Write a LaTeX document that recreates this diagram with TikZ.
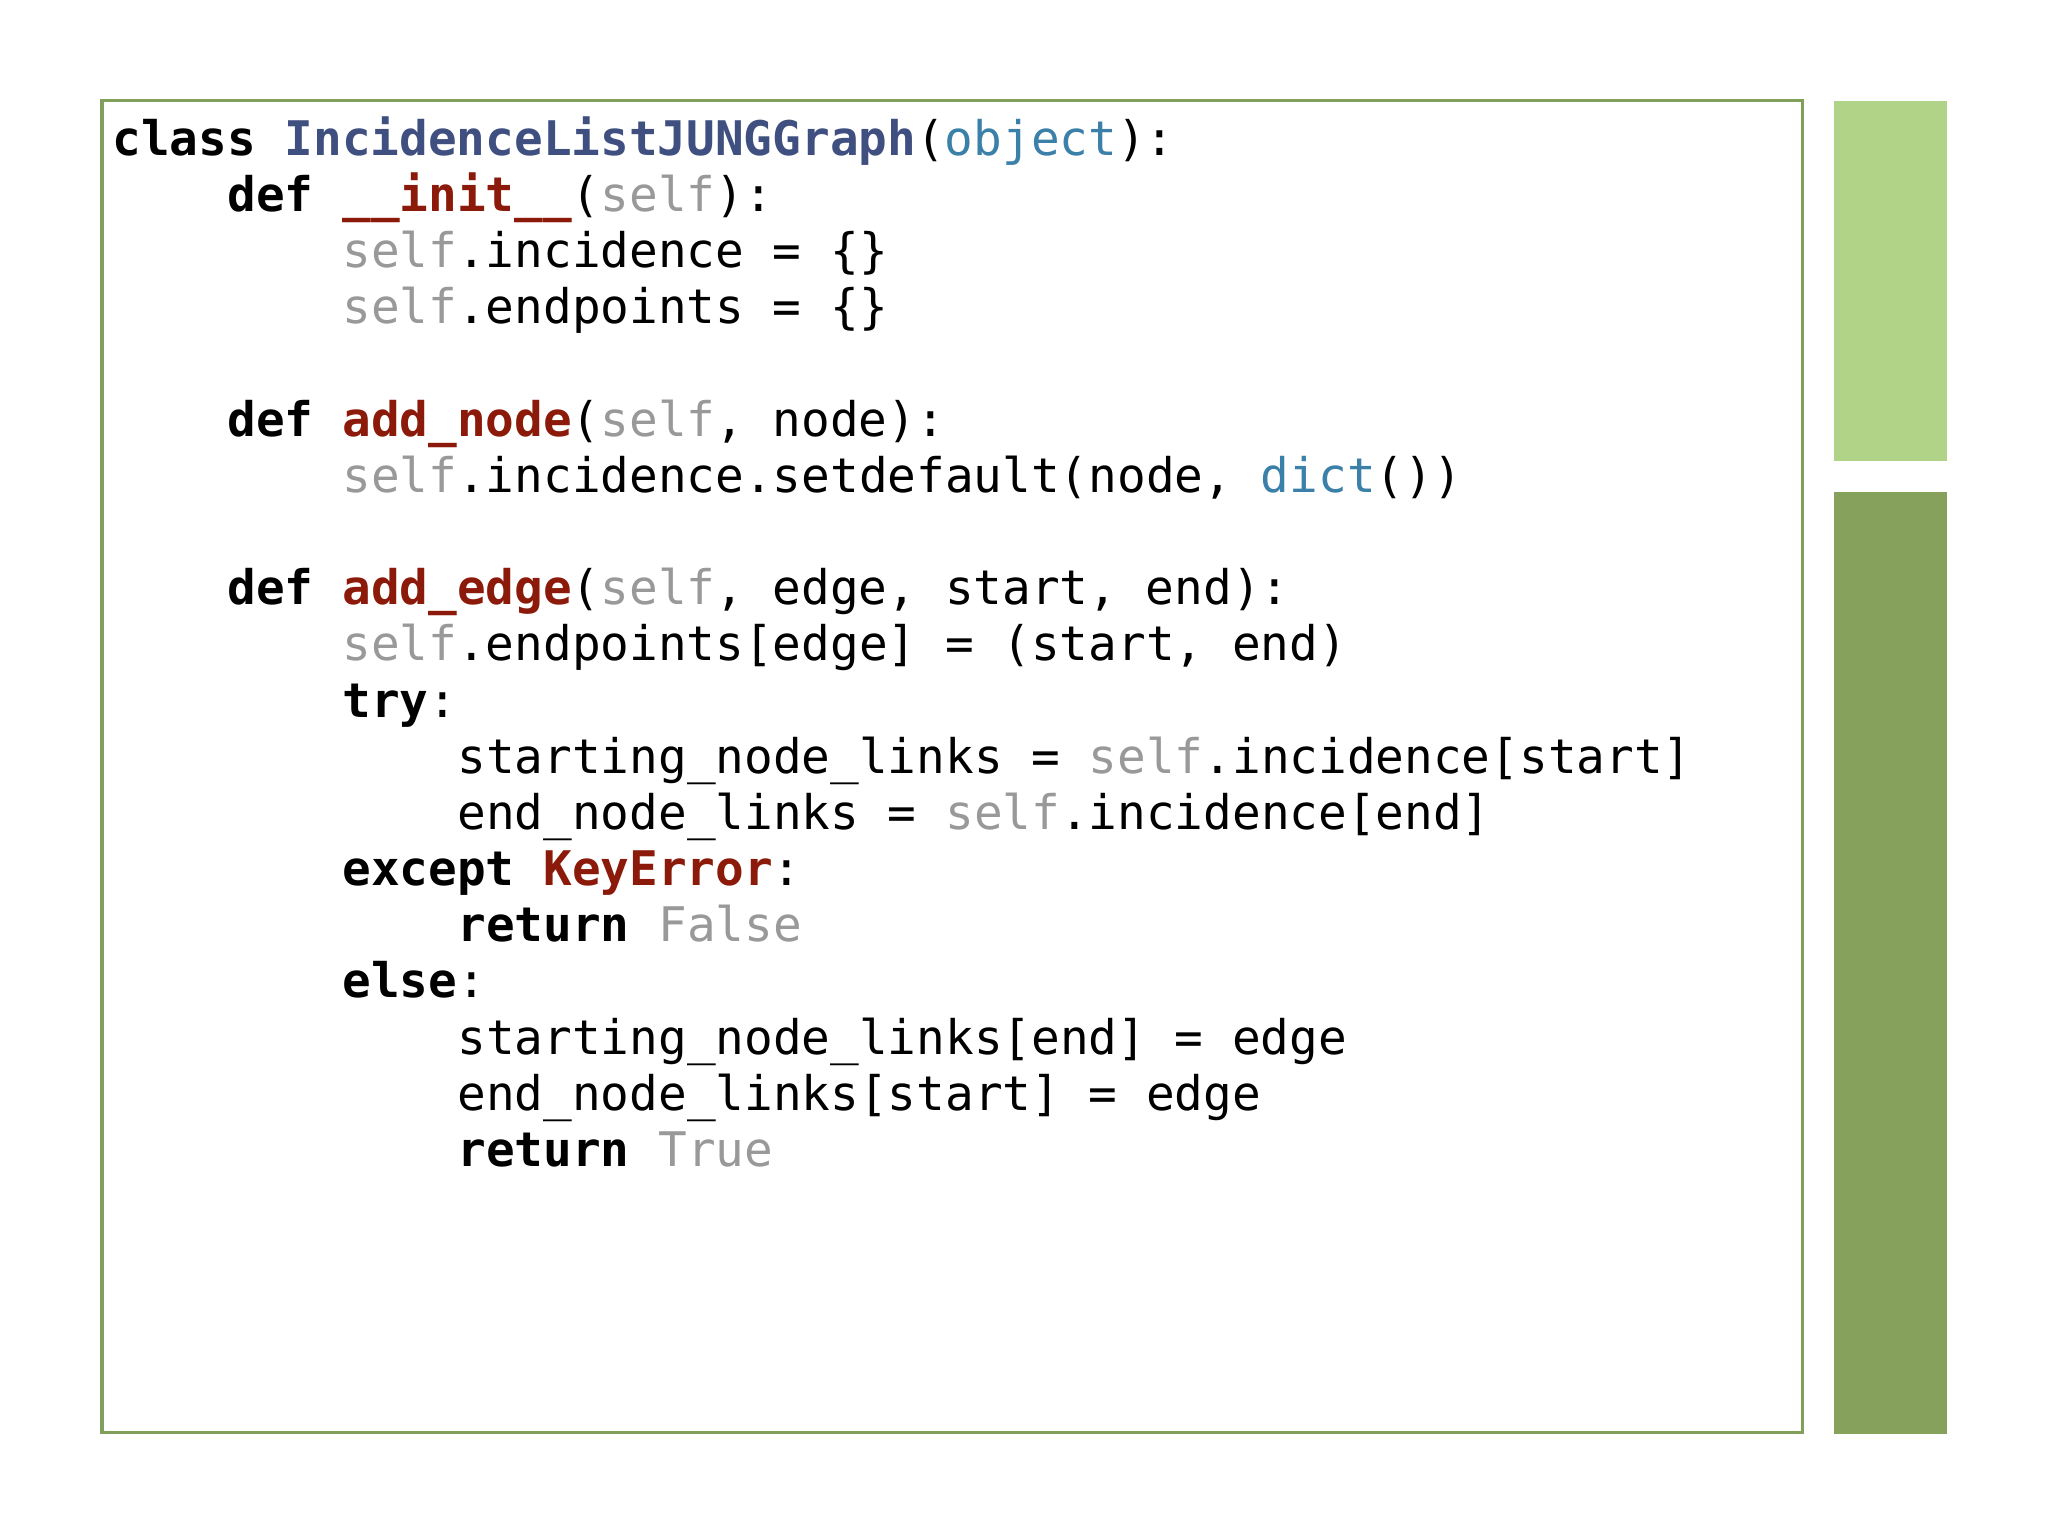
\documentclass[tikz,border=0pt]{standalone}
\usepackage{fontspec}
\setmonofont{DejaVu Sans Mono}
\definecolor{frameg}{HTML}{7F9F5A}
\definecolor{lightg}{HTML}{B1D388}
\definecolor{darkg}{HTML}{85A15C}
\definecolor{clsblue}{HTML}{3F4F80}
\definecolor{bltn}{HTML}{3A80A8}
\definecolor{fnred}{HTML}{8B1A0A}
\definecolor{slfgray}{HTML}{999999}
\newcommand{\kwd}[1]{\textbf{#1}}
\newcommand{\slf}{\textcolor{slfgray}{self}}
\newcommand{\fnc}[1]{\textcolor{fnred}{\textbf{#1}}}
\newcommand{\blu}[1]{\textcolor{bltn}{#1}}
\newcommand{\clsn}[1]{\textcolor{clsblue}{\textbf{#1}}}
\newcommand{\gry}[1]{\textcolor{slfgray}{#1}}
\begin{document}
\begin{tikzpicture}[x=1pt,y=-1pt,
  codeline/.style={anchor=base west,inner sep=0pt,font=\ttfamily\fontsize{36.5}{43}\selectfont}]
\useasboundingbox (0,0) rectangle (1568,1176);
\fill[white] (0,0) rectangle (1568,1176);
\draw[frameg,line width=2.5pt] (78,77) rectangle (1380,1097);
\fill[lightg] (1404,77) rectangle (1491,353);
\fill[darkg] (1404,377) rectangle (1491,1098);
\def\bl#1{\fpeval{#1+12}}
\node[codeline] (l1) at (86,119) {\kwd{class} \clsn{IncidenceListJUNGGraph}(\blu{object}):};
\node[codeline] (l2) at (174,162) {\kwd{def} \fnc{\_\_init\_\_}(\slf):};
\node[codeline] (l3) at (262,205) {\slf.incidence = \{\}};
\node[codeline] (l4) at (262,248) {\slf.endpoints = \{\}};
\node[codeline] (l5) at (174,334) {\kwd{def} \fnc{add\_node}(\slf, node):};
\node[codeline] (l6) at (262,377) {\slf.incidence.setdefault(node, \blu{dict}())};
\node[codeline] (l7) at (174,463) {\kwd{def} \fnc{add\_edge}(\slf, edge, start, end):};
\node[codeline] (l8) at (262,506) {\slf.endpoints[edge] = (start, end)};
\node[codeline] (l9) at (262,549) {\kwd{try}:};
\node[codeline] (l10) at (350,592) {starting\_node\_links = \slf.incidence[start]};
\node[codeline] (l11) at (350,635) {end\_node\_links = \slf.incidence[end]};
\node[codeline] (l12) at (262,678) {\kwd{except} \fnc{KeyError}:};
\node[codeline] (l13) at (350,721) {\kwd{return} \gry{False}};
\node[codeline] (l14) at (262,764) {\kwd{else}:};
\node[codeline] (l15) at (350,807) {starting\_node\_links[end] = edge};
\node[codeline] (l16) at (350,850) {end\_node\_links[start] = edge};
\node[codeline] (l17) at (350,893) {\kwd{return} \gry{True}};
\end{tikzpicture}
\end{document}
